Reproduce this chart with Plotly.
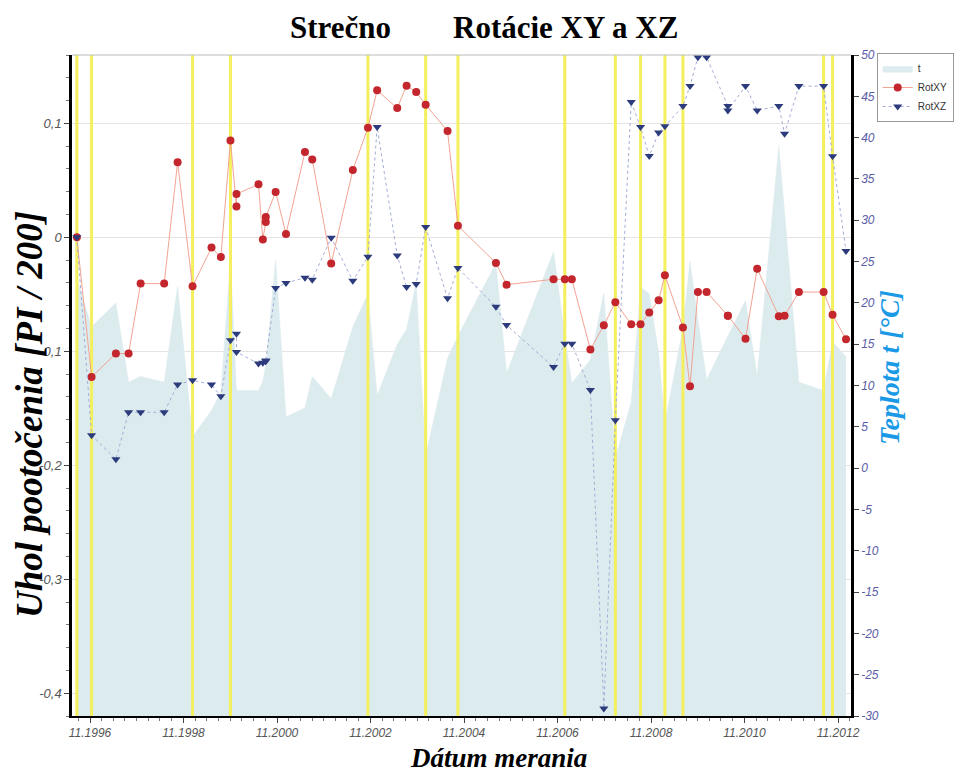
import plotly.graph_objects as go

# ---- data ----
dates = [
    "1996-07-21", "1996-11-13", "1997-05-22", "1997-08-29", "1997-12-01", "1998-06-03",
    "1998-09-16", "1999-01-11", "1999-06-08", "1999-08-20", "1999-11-03", "1999-12-20",
    "1999-12-20", "2000-06-09", "2000-07-13", "2000-08-05", "2000-08-05", "2000-10-21",
    "2001-01-10", "2001-06-07", "2001-08-03", "2001-12-29", "2002-06-16", "2002-10-12",
    "2002-12-23", "2003-05-29", "2003-08-10", "2003-10-24", "2004-01-06", "2004-06-25",
    "2004-09-14", "2005-07-08", "2005-09-29", "2006-10-01", "2006-12-28", "2007-02-21",
    "2007-07-16", "2007-10-29", "2008-01-27", "2008-05-30", "2008-08-11", "2008-10-18",
    "2008-12-30", "2009-02-17", "2009-07-08", "2009-09-01", "2009-11-02", "2010-01-09",
    "2010-06-24", "2010-06-24", "2010-11-09", "2011-02-08", "2011-07-27", "2011-09-10",
    "2011-12-31", "2012-07-11", "2012-09-19", "2013-01-02",
]

rot_xy = [
    0.0, -0.1225, -0.102, -0.102, -0.0406, -0.0406,
    0.0658, -0.043, -0.009, -0.0173, 0.085, 0.027,
    0.038, 0.0465, -0.0018, 0.0134, 0.0178, 0.0398,
    0.003, 0.0748, 0.0684, -0.023, 0.059, 0.0962,
    0.129, 0.1134, 0.133, 0.1275, 0.1164, 0.0933,
    0.0102, -0.0225, -0.0415, -0.0368, -0.0368, -0.0368,
    -0.0985, -0.0772, -0.057, -0.0763, -0.0763, -0.066,
    -0.0553, -0.0333, -0.079, -0.1307, -0.048, -0.048,
    -0.0687, -0.0687, -0.089, -0.0275, -0.0693, -0.0687,
    -0.048, -0.048, -0.068, -0.0895,
]

rot_xz = [
    0.0, -0.1737, -0.1947, -0.1535, -0.1535, -0.1535,
    -0.1292, -0.1254, -0.1292, -0.1395, -0.0904, -0.0845,
    -0.1006, -0.1108, -0.110, -0.1088, -0.108, -0.0445,
    -0.040, -0.0354, -0.0371, -0.0003, -0.038, -0.017,
    0.0968, -0.016, -0.0436, -0.041, 0.009, -0.0535,
    -0.0269, -0.061, -0.077, -0.1138, -0.0933, -0.0933,
    -0.134, -0.4134, -0.1605, 0.1187, 0.0968, 0.0713,
    0.0921, 0.0974, 0.1152, 0.1327, 0.158, 0.158,
    0.1152, 0.1114, 0.1327, 0.1114, 0.1152, 0.091,
    0.1327, 0.1327, 0.0711, -0.012,
]

temp_t = [
    23.0, 17.1, 20.0, 10.4, 11.1, 10.4,
    22.0, 3.8, 7.0, 9.2, 25.2, 9.4,
    9.4, 9.4, 10.5, 12.5, 12.5, 25.2,
    6.2, 7.3, 11.1, 8.4, 17.1, 21.1,
    8.8, 15.0, 16.8, 22.4, 1.5, 13.3,
    16.0, 24.8, 11.5, 26.2, 16.0, 10.3,
    13.1, 21.2, 1.2, 8.0, 21.9, 21.1,
    14.0, 5.4, 17.0, 25.0, 18.0, 10.7,
    16.0, 16.0, 20.3, 11.1, 39.0, 31.0,
    10.4, 9.4, 15.3, 13.5,
]

# dates marked by the yellow vertical lines
marked_dates = [
    "1996-07-21", "1996-11-13", "1999-01-11", "1999-11-03", "2002-10-12", "2004-01-06",
    "2004-09-14", "2006-12-28", "2008-01-27", "2008-08-11", "2009-02-17", "2009-07-08",
    "2012-07-11", "2012-09-19",
]

x_tick_years = [1996, 1998, 2000, 2002, 2004, 2006, 2008, 2010, 2012]
rot_ticks = [-0.4, -0.3, -0.2, -0.1, 0.0, 0.1]
temp_ticks = list(range(-30, 55, 5))

ROT_RANGE = [-0.42, 0.16]
TEMP_RANGE = [-30, 50]
X_RANGE = ["1996-06-13", "2013-02-10"]


def fmt_rot(v):
    if abs(v) < 1e-9:
        return "0"
    return f"{v:.1f}".replace(".", ",")


fig = go.Figure()

# baseline for the temperature area (bottom of the temperature axis)
fig.add_trace(go.Scatter(
    x=dates, y=[TEMP_RANGE[0]] * len(dates), mode="lines",
    line=dict(width=0, color="rgba(0,0,0,0)"), showlegend=False,
    hoverinfo="skip", yaxis="y",
))
fig.add_trace(go.Scatter(
    x=dates, y=temp_t, name="t", mode="lines", fill="tonexty",
    fillcolor="#dcebee", line=dict(width=0.5, color="#dcebee"), yaxis="y",
))

# yellow marker lines
yx, yy = [], []
for d in marked_dates:
    yx += [d, d, None]
    yy += [ROT_RANGE[0], ROT_RANGE[1], None]
fig.add_trace(go.Scatter(
    x=yx, y=yy, mode="lines", line=dict(color="#f4ef5c", width=3),
    showlegend=False, hoverinfo="skip", yaxis="y2",
))

fig.add_trace(go.Scatter(
    x=dates, y=rot_xy, name="RotXY", mode="lines+markers",
    line=dict(color="#f2a392", width=1),
    marker=dict(symbol="circle", size=8, color="#c3262c"),
    yaxis="y2", cliponaxis=False,
))
fig.add_trace(go.Scatter(
    x=dates, y=rot_xz, name="RotXZ", mode="lines+markers",
    line=dict(color="#a3acd8", width=1, dash="dot"),
    marker=dict(symbol="triangle-down", size=8, color="#2c3b7c"),
    yaxis="y2", cliponaxis=False,
))

tick_font = dict(family="Liberation Sans", size=12, style="italic")

# the page body adds an 8px offset; compensate in size and margins
fig.update_layout(
    width=960, height=766,
    margin=dict(l=64, r=117, t=47, b=58),
    plot_bgcolor="white", paper_bgcolor="white",
    title=dict(
        text="<b>Strečno\u00a0\u00a0\u00a0\u00a0\u00a0\u00a0\u00a0\u00a0Rotácie XY a XZ</b>",
        x=0.496, xanchor="center", y=0.975, yanchor="middle",
        font=dict(family="Liberation Serif", size=31, color="black"),
    ),
    xaxis=dict(
        type="date", range=X_RANGE, automargin=False,
        tickvals=[f"{y}-11-01" for y in x_tick_years],
        ticktext=[f"11.{y}" for y in x_tick_years],
        tickfont=dict(**tick_font, color="#555555"),
        ticks="outside", ticklen=5, tickcolor="#444",
        showline=True, linecolor="black", linewidth=2,
        showgrid=False, zeroline=False,
        minor=dict(dtick="M3", tick0="1996-11-01", ticks="outside", ticklen=3,
                   tickcolor="#777", showgrid=False),
    ),
    yaxis=dict(
        side="right", range=TEMP_RANGE, automargin=False,
        tickvals=temp_ticks, ticktext=[str(v) for v in temp_ticks],
        tickfont=dict(**tick_font, color="#5a5ca8"),
        ticks="outside", ticklen=5, tickcolor="#444",
        showline=True, linecolor="black", linewidth=2.5,
        showgrid=False, zeroline=False,
    ),
    yaxis2=dict(
        overlaying="y", side="left", range=ROT_RANGE, automargin=False,
        tickvals=rot_ticks, ticktext=[fmt_rot(v) for v in rot_ticks],
        tickfont=dict(family="Liberation Sans", size=13, style="italic", color="#555555"),
        ticks="outside", ticklen=5, tickcolor="#444",
        showline=True, linecolor="black", linewidth=2.5,
        showgrid=True, gridcolor="#e6e3e3", gridwidth=1, zeroline=False,
        minor=dict(dtick=0.02, tick0=0, ticks="outside", ticklen=3, tickcolor="#777",
                   showgrid=False),
    ),
    legend=dict(
        x=1.033, y=1.003, xanchor="left", yanchor="top",
        bgcolor="white", bordercolor="#999999", borderwidth=1,
        font=dict(family="Liberation Sans", size=10, color="#333"),
        tracegroupgap=0, traceorder="normal",
    ),
    shapes=[dict(type="line", xref="paper", yref="paper", x0=0, x1=1, y0=1, y1=1,
                 line=dict(color="#bbbbbb", width=1))],
    annotations=[
        dict(text="<b><i>Dátum merania</i></b>", xref="paper", yref="paper",
             x=0.548, y=-0.063, xanchor="center", yanchor="middle", showarrow=False,
             font=dict(family="Liberation Serif", size=27, color="black")),
        dict(text="<b><i>Uhol pootočenia [PI / 200]</i></b>", xref="paper", yref="paper",
             x=-0.0539, y=0.4554, xanchor="center", yanchor="middle", showarrow=False,
             textangle=-90,
             font=dict(family="Liberation Serif", size=37, color="black")),
        dict(text="<b><i>Teplota t [°C]</i></b>", xref="paper", yref="paper",
             x=1.050, y=0.528, xanchor="center", yanchor="middle", showarrow=False,
             textangle=-90,
             font=dict(family="Liberation Serif", size=28, color="#1a9ae6")),
    ],
)

fig.write_html("out.html")
